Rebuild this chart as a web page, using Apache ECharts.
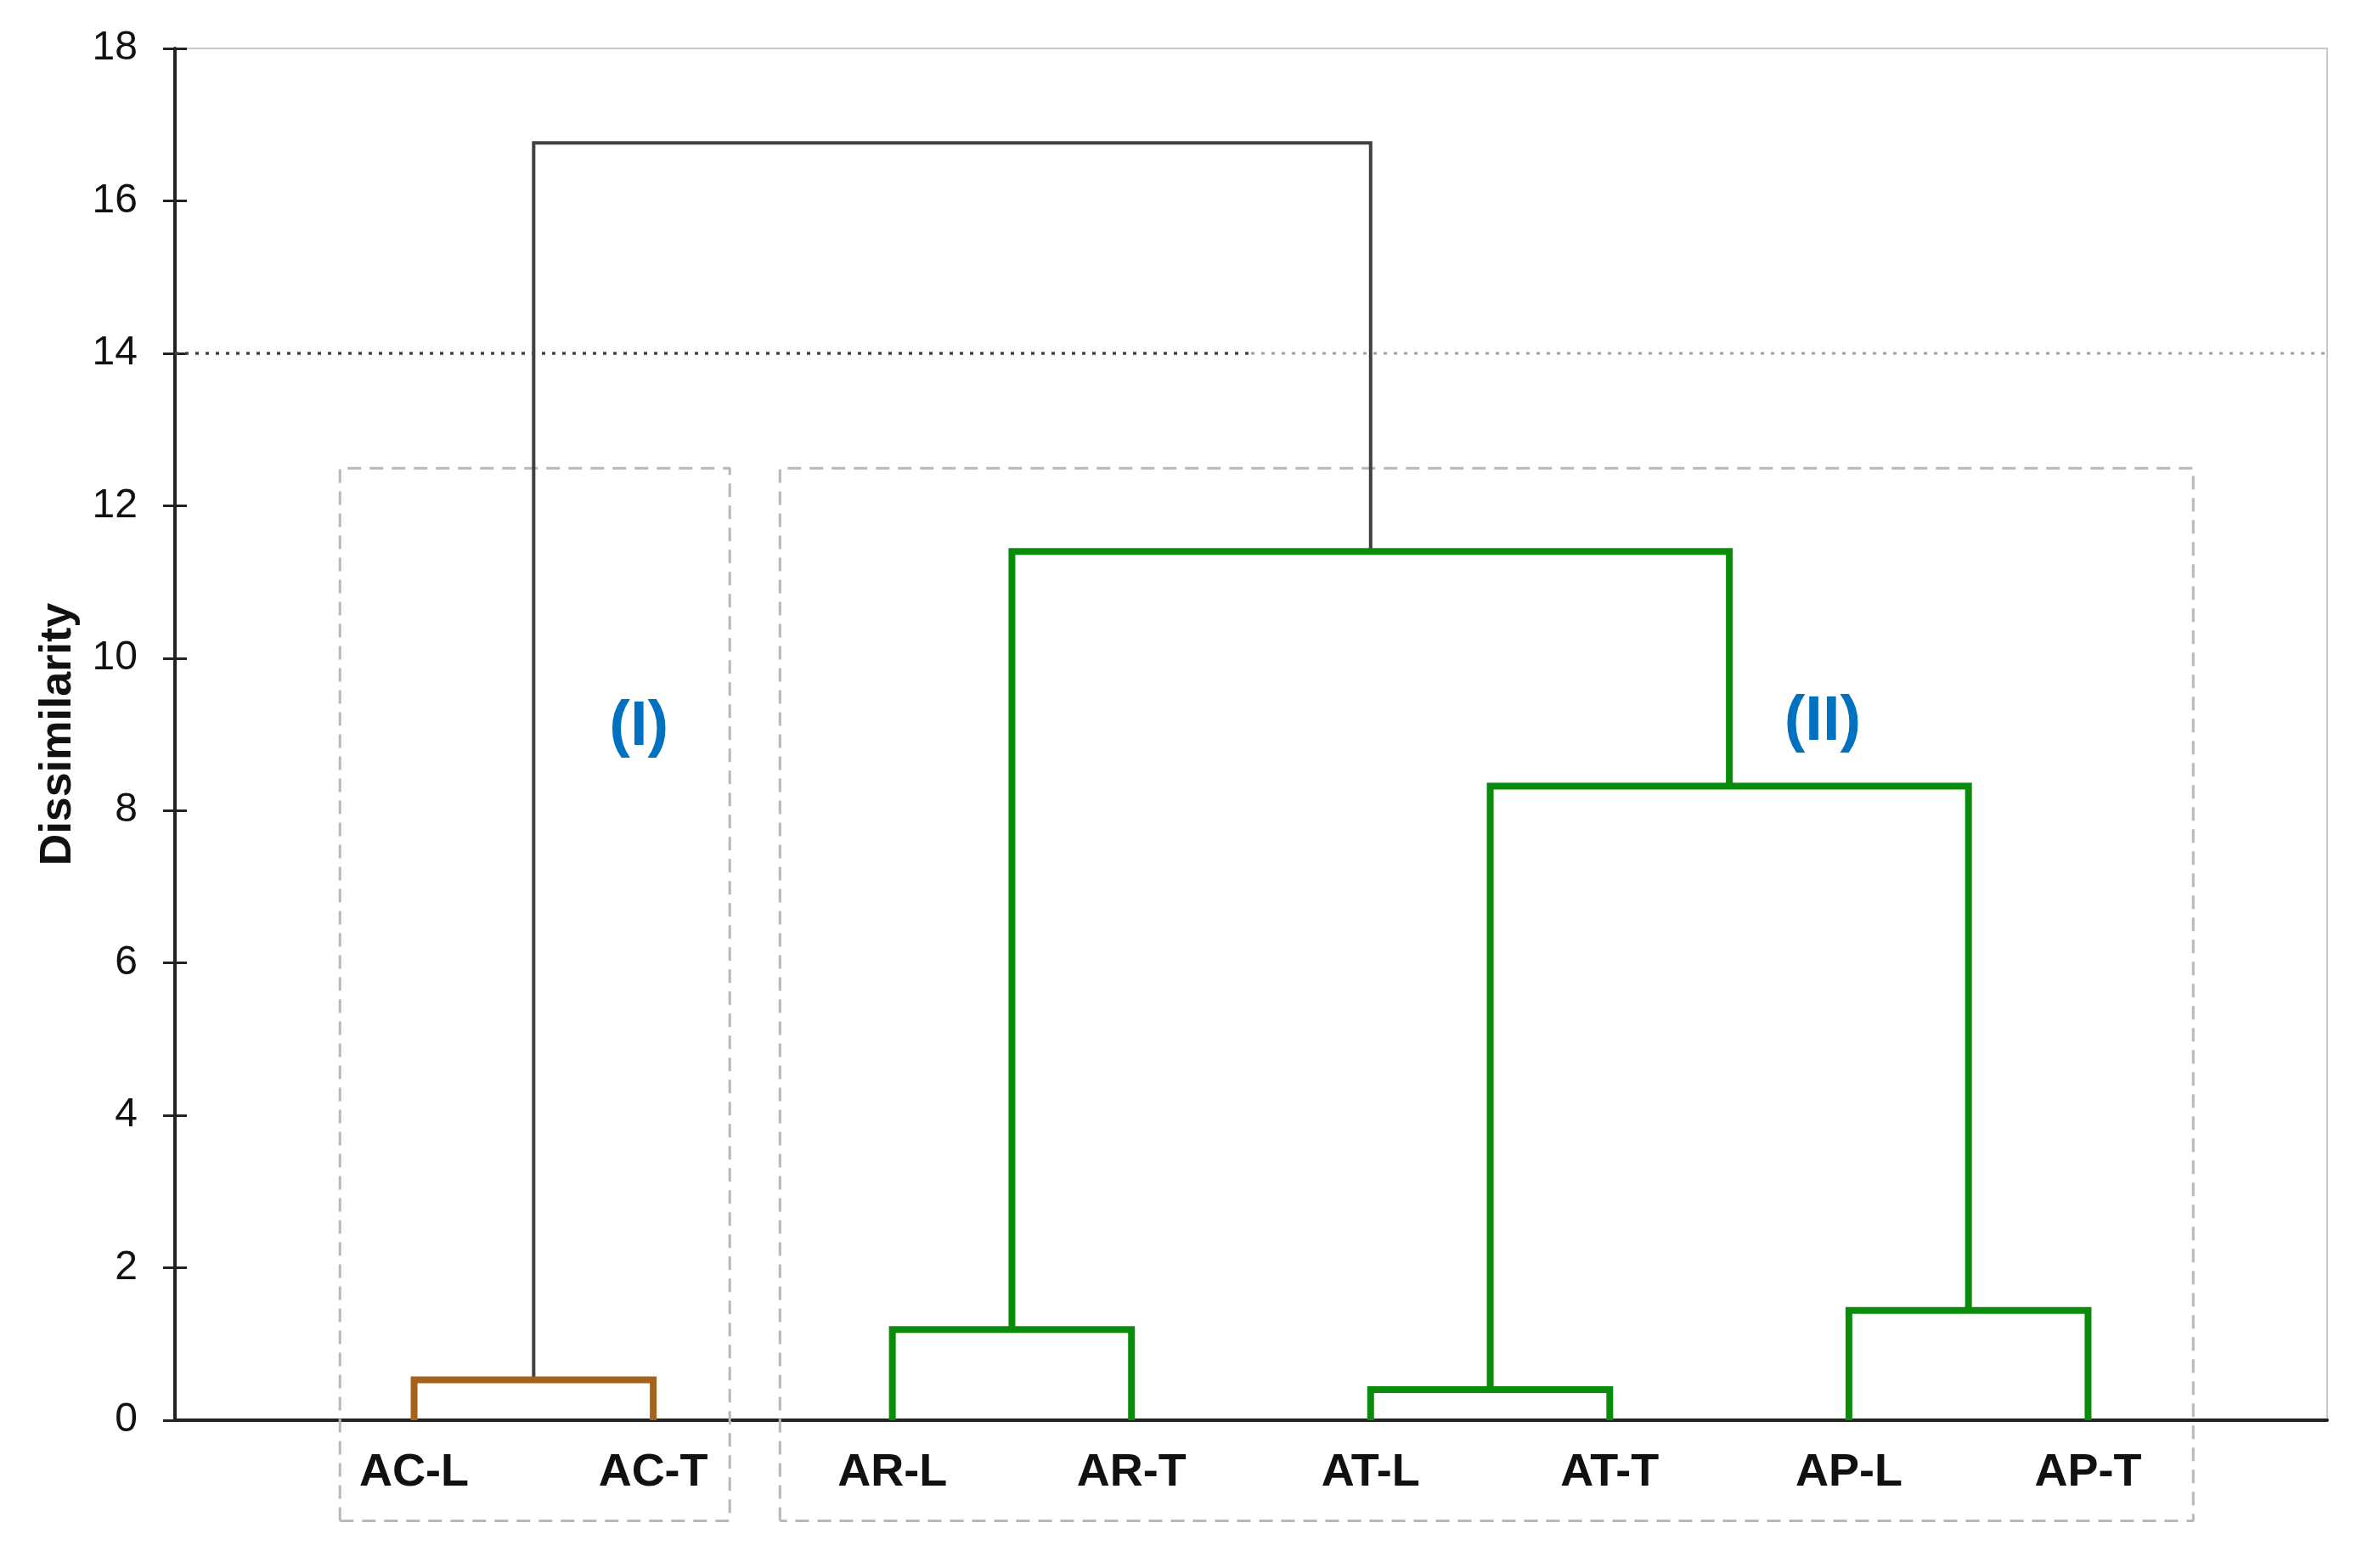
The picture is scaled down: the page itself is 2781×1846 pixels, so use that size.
<!DOCTYPE html>
<html>
<head>
<meta charset="utf-8">
<script src="https://cdn.jsdelivr.net/npm/echarts@6/dist/echarts.min.js"></script>
<style>
html, body { margin: 0; padding: 0; background: #fff; }
#main { width: 2781px; height: 1846px; }
</style>
</head>
<body>
<div id="main"></div>
<script>
// leaves of the dendrogram, left to right (drawn at x = 1..8)
var leaves = ['AC-L', 'AC-T', 'AR-L', 'AR-T', 'AT-L', 'AT-T', 'AP-L', 'AP-T'];
// merges: [left child, right child, dissimilarity]; numbers = leaf index, 'nK' = merge K
var merges = [
    [0, 1, 0.53],
    [2, 3, 1.19],
    [4, 5, 0.40],
    [6, 7, 1.44],
    ['n2', 'n3', 8.32],
    ['n1', 'n4', 11.40],
    ['n0', 'n5', 16.76]
];
var mergeColor = ['#a5621c', '#0a8c0a', '#0a8c0a', '#0a8c0a', '#0a8c0a', '#0a8c0a', '#404040'];
var cutLevel = 14;
var yTicks = [0, 2, 4, 6, 8, 10, 12, 14, 16, 18];
// group labels and their dashed boxes
var groupNames = ['(I)', '(II)'];
var groupLabelX = [1.94, 6.89];
var groupLabelY = [9.09, 9.15];
var boxXMin = [0.69, 2.53];
var boxXMax = [2.32, 8.44];
var boxYMin = [-1.32, -1.32];
var boxYMax = [12.49, 12.49];

var font = "'Liberation Sans', Arial, sans-serif";

// positions of nodes
var nodeX = {}, nodeH = {};
leaves.forEach(function (l, i) { nodeX[i] = i + 1; nodeH[i] = 0; });
var series = [];
merges.forEach(function (m, k) {
    var xl = nodeX[m[0]], xr = nodeX[m[1]];
    var hl = nodeH[m[0]], hr = nodeH[m[1]];
    nodeX['n' + k] = (xl + xr) / 2;
    nodeH['n' + k] = m[2];
    series.push({
        type: 'line',
        data: [[xl, hl], [xl, m[2]], [xr, m[2]], [xr, hr]],
        symbol: 'none',
        lineStyle: { color: mergeColor[k], width: k === 6 ? 4 : 8, join: 'miter' },
        z: k === 6 ? 2 : 3
    });
});

// cut line
series.push({
    type: 'line', symbol: 'none', z: 2,
    data: [[0, cutLevel], [4.5, cutLevel]],
    lineStyle: { color: '#444', width: 3.5, type: [4, 8] }
});
series.push({
    type: 'line', symbol: 'none', z: 2,
    data: [[4.5, cutLevel], [9, cutLevel]],
    lineStyle: { color: '#a0a0a0', width: 3, type: [4, 8] }
});

// dashed group boxes
groupNames.forEach(function (g, i) {
    series.push({
        type: 'line', symbol: 'none', clip: false, z: 1,
        data: [[boxXMin[i], boxYMin[i]], [boxXMin[i], boxYMax[i]], [boxXMax[i], boxYMax[i]],
               [boxXMax[i], boxYMin[i]], [boxXMin[i], boxYMin[i]]],
        lineStyle: { color: '#b8b8b8', width: 3, type: [16, 10] }
    });
});

series.push({
    type: 'scatter', symbolSize: 0, z: 5,
    itemStyle: { opacity: 1 },
    data: groupNames.map(function (g, i) { return { name: g, value: [groupLabelX[i], groupLabelY[i]] }; }),
    label: {
        show: true, position: 'inside', formatter: '{b}', opacity: 1,
        color: '#0070c0', fontSize: 74, fontWeight: 'bold', fontFamily: font
    }
});

var chart = echarts.init(document.getElementById('main'));
chart.setOption({
    backgroundColor: '#fff',
    animation: false,
    grid: {
        left: 206, right: 41, top: 57, bottom: 174,
        show: true, borderColor: '#c8c8c8', borderWidth: 2
    },
    xAxis: {
        type: 'value', min: 0, max: 9, interval: 1,
        axisLine: { lineStyle: { color: '#222', width: 4 } },
        axisTick: { show: false },
        splitLine: { show: false },
        axisLabel: {
            margin: 35, fontSize: 54, fontWeight: 'bold', color: '#111', fontFamily: font,
            formatter: function (v) { return leaves[v - 1] || ''; }
        }
    },
    yAxis: [{
        type: 'value', min: yTicks[0], max: yTicks[yTicks.length - 1], interval: 2,
        name: 'Dissimilarity', nameLocation: 'middle', nameRotate: 90, nameGap: 111,
        nameTextStyle: { fontSize: 52, fontWeight: 'bold', color: '#111', fontFamily: font },
        axisLine: { show: true, lineStyle: { color: '#222', width: 4 } },
        axisTick: { show: true, length: 14, lineStyle: { color: '#222', width: 3 } },
        splitLine: { show: false },
        axisLabel: { margin: 44, fontSize: 48, color: '#111', fontFamily: font }
    }, {
        type: 'value', position: 'left', offset: 0,
        min: yTicks[0], max: yTicks[yTicks.length - 1], interval: 2,
        axisLine: { show: false },
        axisTick: { show: true, inside: true, length: 14, lineStyle: { color: '#222', width: 3 } },
        axisLabel: { show: false },
        splitLine: { show: false }
    }],
    series: series
});
</script>
</body>
</html>
